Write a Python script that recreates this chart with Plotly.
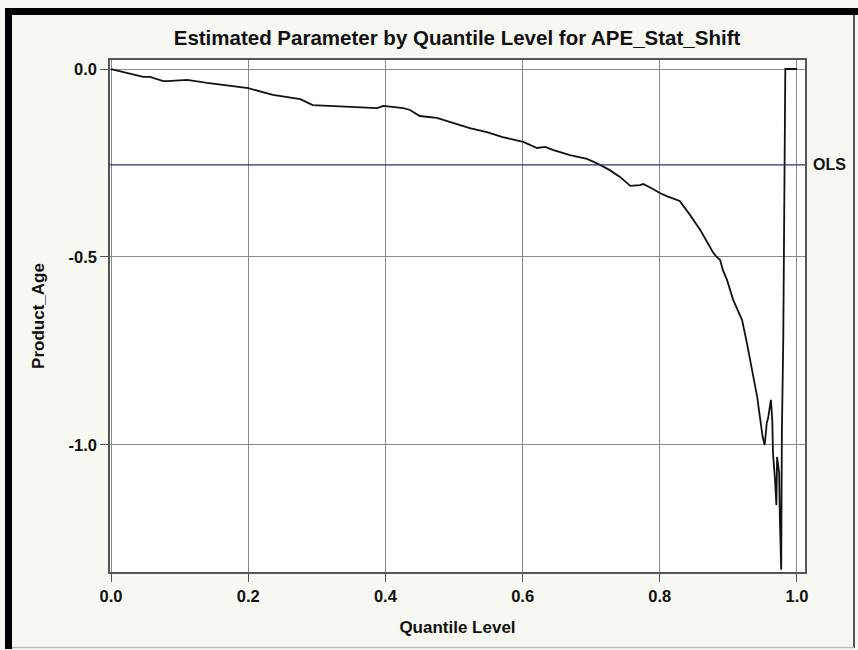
import plotly.graph_objects as go

# Quantile-process estimates for Product_Age
quantile_level = [
    0.000, 0.047, 0.057, 0.076, 0.082, 0.111, 0.140, 0.171, 0.200, 0.236,
    0.276, 0.294, 0.324, 0.356, 0.388, 0.397, 0.426, 0.436, 0.450, 0.475,
    0.499, 0.523, 0.548, 0.571, 0.601, 0.621, 0.633, 0.644, 0.669, 0.694,
    0.713, 0.727, 0.742, 0.757, 0.771, 0.776, 0.790, 0.800, 0.810, 0.829,
    0.844, 0.859, 0.869, 0.878, 0.883, 0.888, 0.892, 0.898, 0.907, 0.920,
    0.927, 0.934, 0.942, 0.946, 0.950, 0.953, 0.956, 0.958, 0.962, 0.964,
    0.965, 0.968, 0.970, 0.971, 0.974, 0.975, 0.977, 0.978, 0.980, 0.983,
    1.000,
]
estimate = [
    0.000, -0.021, -0.021, -0.032, -0.032, -0.029, -0.037, -0.045, -0.051, -0.069,
    -0.080, -0.096, -0.098, -0.101, -0.104, -0.098, -0.104, -0.109, -0.125, -0.130,
    -0.144, -0.157, -0.168, -0.181, -0.194, -0.210, -0.207, -0.215, -0.229, -0.239,
    -0.255, -0.269, -0.287, -0.311, -0.309, -0.306, -0.319, -0.330, -0.338, -0.351,
    -0.388, -0.428, -0.460, -0.489, -0.500, -0.508, -0.535, -0.561, -0.614, -0.668,
    -0.729, -0.793, -0.872, -0.926, -0.979, -1.000, -0.941, -0.928, -0.880, -0.934,
    -1.021, -1.093, -1.160, -1.032, -1.074, -1.191, -1.332, -0.968, -0.721, 0.000,
    0.000,
]
ols_estimate = -0.255

x_ticks = [0.0, 0.2, 0.4, 0.6, 0.8, 1.0]
x_tick_text = ["0.0", "0.2", "0.4", "0.6", "0.8", "1.0"]
y_ticks = [0.0, -0.5, -1.0]
y_tick_text = ["0.0", "-0.5", "-1.0"]

W, H = 858, 650
L, R, T, B = 110, 53, 60, 78
pw, ph = W - L - R, H - T - B

def px(xp):
    return (xp - L) / pw

def py(yp):
    return (H - B - yp) / ph

FONT = "Liberation Sans, Arial, sans-serif"

def bold(labels):
    return ["<b>%s</b>" % s for s in labels]

fig = go.Figure()
fig.add_trace(go.Scatter(
    x=quantile_level, y=estimate, mode="lines",
    line=dict(color="#111111", width=1.8), showlegend=False, hoverinfo="x+y",
))

# OLS reference line across the plot
fig.add_shape(type="line", xref="paper", yref="y", x0=0, x1=1,
              y0=ols_estimate, y1=ols_estimate,
              line=dict(color="#1f3672", width=1.2), layer="above")
fig.add_annotation(xref="paper", yref="y", x=1.0, y=ols_estimate, xanchor="left",
                   xshift=6, text="<b>OLS</b>", showarrow=False,
                   font=dict(family=FONT, size=16, color="#111111"))

# outer frame: heavy top/left, light right/bottom
fig.add_shape(type="rect", xref="paper", yref="paper",
              x0=px(5), x1=px(12), y0=py(649), y1=py(8),
              fillcolor="#000000", line=dict(width=0), layer="above")
fig.add_shape(type="rect", xref="paper", yref="paper",
              x0=px(5), x1=px(858), y0=py(15), y1=py(8),
              fillcolor="#000000", line=dict(width=0), layer="above")
fig.add_shape(type="line", xref="paper", yref="paper",
              x0=px(854), x1=px(854), y0=py(15), y1=py(648),
              line=dict(color="#555555", width=2), layer="above")
fig.add_shape(type="line", xref="paper", yref="paper",
              x0=px(12), x1=px(854), y0=py(647.5), y1=py(647.5),
              line=dict(color="#bbbbbb", width=1.5), layer="above")

axis_common = dict(
    showgrid=True, gridcolor="#8a8a8a", gridwidth=1,
    showline=True, linecolor="#555555", linewidth=1.5, mirror=True,
    ticks="outside", ticklen=8, tickcolor="#555555", tickwidth=1,
    zeroline=False,
    tickfont=dict(family=FONT, size=16.5, color="#111111"),
)

fig.update_layout(
    width=W, height=H,
    margin=dict(l=L, r=R, t=T, b=B),
    paper_bgcolor="#f8f8f3", plot_bgcolor="#ffffff",
    title=dict(text="<b>Estimated Parameter by Quantile Level for APE_Stat_Shift</b>",
               xref="paper", x=px(457), xanchor="center",
               yref="container", y=1 - 38 / H, yanchor="middle",
               font=dict(family=FONT, size=20.5, color="#111111")),
    xaxis=dict(range=[-0.0015, 1.0117], tickvals=x_ticks, ticktext=bold(x_tick_text),
               title=dict(text="<b>Quantile Level</b>", standoff=18,
                          font=dict(family=FONT, size=17, color="#111111")),
               **axis_common),
    yaxis=dict(range=[-1.338, 0.024], tickvals=y_ticks, ticktext=bold(y_tick_text),
               title=dict(text="<b>Product_Age</b>", standoff=20,
                          font=dict(family=FONT, size=17, color="#111111")),
               **axis_common),
)

fig.write_html("out.html")
